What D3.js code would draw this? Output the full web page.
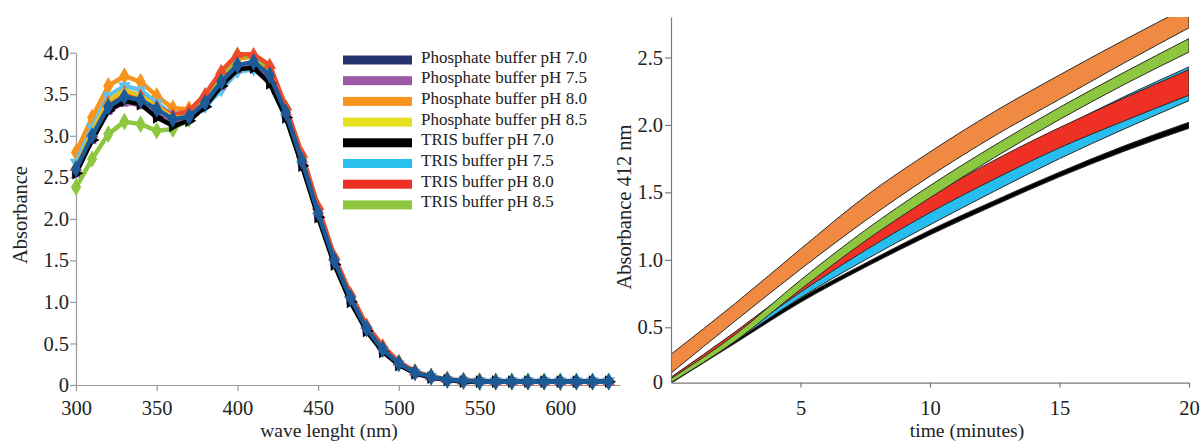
<!DOCTYPE html>
<html>
<head>
<meta charset="utf-8">
<script src="https://cdn.jsdelivr.net/npm/d3@7/dist/d3.min.js"></script>
<style>
  html, body { margin: 0; padding: 0; background: #fff; }
  svg text { font-family: "Liberation Serif", "Times New Roman", serif; fill: #222; }
</style>
</head>
<body>
<svg id="fig" width="1201" height="441"></svg>
<script>
// ---------- Spectra (left panel) ----------
const wavelengths = [300,310,320,330,340,350,360,370,380,390,400,410,420,430,440,450,460,470,480,490,500,510,520,530,540,550,560,570,580,590,600,610,620,630];

const specPhos70 = [2.60,3.00,3.35,3.47,3.43,3.32,3.20,3.23,3.40,3.65,3.85,3.89,3.73,3.28,2.70,2.07,1.50,1.05,0.68,0.43,0.26,0.15,0.10,0.06,0.05,0.04,0.04,0.04,0.04,0.04,0.04,0.04,0.04,0.04];
const specPhos75 = [2.55,2.95,3.30,3.40,3.37,3.25,3.15,3.20,3.38,3.60,3.80,3.84,3.68,3.25,2.67,2.05,1.48,1.03,0.67,0.42,0.25,0.14,0.09,0.06,0.05,0.04,0.04,0.04,0.04,0.04,0.04,0.04,0.04,0.04];
const specPhos80 = [2.80,3.22,3.60,3.72,3.65,3.48,3.33,3.32,3.42,3.63,3.93,3.95,3.78,3.30,2.72,2.10,1.52,1.07,0.70,0.45,0.27,0.16,0.10,0.07,0.05,0.05,0.04,0.04,0.04,0.04,0.04,0.04,0.04,0.04];
const specPhos85 = [2.62,3.05,3.42,3.55,3.48,3.35,3.22,3.22,3.37,3.60,3.80,3.82,3.68,3.25,2.68,2.06,1.49,1.04,0.68,0.43,0.26,0.15,0.10,0.06,0.05,0.04,0.04,0.04,0.04,0.04,0.04,0.04,0.04,0.04];
const specTris70 = [2.55,2.95,3.30,3.42,3.38,3.22,3.12,3.18,3.35,3.60,3.80,3.82,3.63,3.22,2.64,2.02,1.45,1.00,0.65,0.40,0.24,0.14,0.09,0.06,0.04,0.04,0.04,0.04,0.04,0.04,0.04,0.04,0.04,0.04];
const specTris75 = [2.68,3.10,3.48,3.60,3.55,3.40,3.25,3.22,3.35,3.55,3.77,3.80,3.65,3.22,2.65,2.03,1.47,1.02,0.66,0.42,0.25,0.15,0.10,0.06,0.05,0.05,0.05,0.05,0.05,0.05,0.05,0.05,0.05,0.05];
const specTris80 = [2.62,3.02,3.40,3.52,3.48,3.35,3.25,3.30,3.50,3.78,3.98,3.98,3.85,3.35,2.78,2.15,1.55,1.10,0.72,0.47,0.28,0.16,0.10,0.07,0.05,0.05,0.04,0.04,0.04,0.04,0.04,0.04,0.04,0.04];
const specTris85 = [2.38,2.72,3.02,3.17,3.14,3.06,3.08,3.20,3.42,3.72,3.97,3.95,3.82,3.33,2.76,2.12,1.53,1.08,0.70,0.45,0.27,0.15,0.10,0.06,0.05,0.04,0.04,0.04,0.04,0.04,0.04,0.04,0.04,0.04];

const legendLabels = [
  "Phosphate buffer pH 7.0","Phosphate buffer pH 7.5","Phosphate buffer pH 8.0","Phosphate buffer pH 8.5",
  "TRIS buffer pH 7.0","TRIS buffer pH 7.5","TRIS buffer pH 8.0","TRIS buffer pH 8.5"
];
const legendColors = ["#25336f","#9b59a6","#f7941d","#e6e020","#000000","#29c0ee","#ee3124","#8dc63f"];

const spectraYTicks = [0,0.5,1.0,1.5,2.0,2.5,3.0,3.5,4.0];
const spectraXTicks = [300,350,400,450,500,550,600];

// ---------- Kinetics (right panel): lower / upper edge of each replicate band ----------
const timePoints = [0,2.5,5,7.5,10,12.5,15,17.5,20];
const kinTris70Lo = [0.085,0.385,0.685,0.945,1.185,1.405,1.615,1.805,1.975];
const kinTris70Hi = [0.105,0.410,0.715,0.975,1.220,1.440,1.650,1.845,2.020];
const kinTris75Lo = [0.09,0.40,0.72,1.00,1.26,1.51,1.75,1.97,2.18];
const kinTris75Hi = [0.12,0.46,0.80,1.13,1.43,1.71,1.97,2.21,2.43];
const kinTris80Lo = [0.10,0.42,0.76,1.07,1.35,1.60,1.83,2.03,2.22];
const kinTris80Hi = [0.13,0.47,0.83,1.17,1.47,1.74,1.98,2.20,2.41];
const kinTris85Lo = [0.09,0.40,0.78,1.14,1.46,1.76,2.04,2.30,2.54];
const kinTris85Hi = [0.12,0.45,0.85,1.22,1.55,1.85,2.13,2.39,2.64];
const kinPhos80Lo = [0.16,0.55,0.93,1.29,1.62,1.92,2.19,2.46,2.72];
const kinPhos80Hi = [0.30,0.68,1.08,1.47,1.80,2.10,2.37,2.63,2.88];

const kineticsYTicks = [0.5,1.0,1.5,2.0,2.5];
const kineticsXTicks = [5,10,15,20];

// ---------- drawing ----------
const svg = d3.select("#fig");
const serif = '"Liberation Serif", "Times New Roman", serif';
const axisGrey = "#9a9a9a";

function styleAxis(g, color) {
  g.attr("font-family", serif);
  g.select(".domain").attr("stroke", color).attr("stroke-width", 1.2);
  g.selectAll(".tick line").attr("stroke", color).attr("stroke-width", 1.2);
  g.selectAll(".tick text").style("font-family", serif).style("font-size", "20.5px").attr("fill", "#222");
}

// Left panel scales
const xL = d3.scaleLinear().domain([300, 637]).range([76, 620]);
const yL = d3.scaleLinear().domain([0, 4.0]).range([385, 52.7]);

const gLX = svg.append("g").attr("transform", `translate(0,${yL(0)})`)
  .call(d3.axisBottom(xL).tickValues(spectraXTicks).tickFormat(d3.format("d")).tickSize(6).tickSizeOuter(0));
styleAxis(gLX, axisGrey);
gLX.selectAll(".tick text").attr("y", 30).attr("dy", 0);

const gLY = svg.append("g").attr("transform", `translate(${xL(300)},0)`)
  .call(d3.axisLeft(yL).tickValues(spectraYTicks).tickFormat(d => d === 0 ? "0" : d3.format(".1f")(d)).tickSize(6).tickSizeOuter(0));
styleAxis(gLY, axisGrey);
gLY.selectAll(".tick text").attr("x", -7);

svg.append("text").attr("transform", `translate(27,215) rotate(-90)`)
  .attr("text-anchor", "middle").style("font-size", "20.5px").text("Absorbance");
svg.append("text").attr("x", 329).attr("y", 437).attr("text-anchor", "middle")
  .style("font-size", "19.5px").text("wave lenght (nm)");

const spectraSeries = [
  { vals: specPhos80, marker: "diamond", plot: "#f7941d" },
  { vals: specTris75, marker: "tridown", plot: "#5cc3ee" },
  { vals: specTris85, marker: "diamond", plot: "#8dc63f" },
  { vals: specTris80, marker: "triup", plot: "#ef4a2a" },
  { vals: specPhos85, marker: "none", plot: "#e6c020" },
  { vals: specPhos75, marker: "square", plot: "#9b59a6" },
  { vals: specTris70, marker: "triright", plot: "#000000" },
  { vals: specPhos70, marker: "diamond", plot: "#1c5a98" }
];

const lineL = d3.line().x(d => xL(d[0])).y(d => yL(d[1]));
const symTypes = {
  diamond: d3.symbolDiamond, square: d3.symbolSquare,
  triup: d3.symbolTriangle, tridown: d3.symbolTriangle, triright: d3.symbolTriangle
};
const symRot = { triup: 0, tridown: 180, triright: 90, diamond: 0, square: 0 };

spectraSeries.forEach(s => {
  const pts = wavelengths.map((w, i) => [w, s.vals[i]]);
  svg.append("path").datum(pts).attr("d", lineL)
    .attr("fill", "none").attr("stroke", s.plot).attr("stroke-width", 4.5).attr("stroke-linejoin", "round");
  if (s.marker !== "none") {
    const sym = d3.symbol().type(symTypes[s.marker]).size(s.marker === "diamond" ? 90 : 70);
    svg.append("g").selectAll("path").data(pts).join("path")
      .attr("d", sym)
      .attr("transform", d => `translate(${xL(d[0])},${yL(d[1])}) rotate(${symRot[s.marker]})`)
      .attr("fill", s.plot);
  }
});

// Legend
const legend = svg.append("g");
legendLabels.forEach((lab, i) => {
  const cy = 60 + i * 20.7;
  legend.append("rect").attr("x", 343).attr("y", cy - 4.5).attr("width", 69).attr("height", 9)
    .attr("fill", legendColors[i]);
  legend.append("text").attr("x", 421).attr("y", cy + 2.5).style("font-size", "17px").text(lab);
});

// Right panel scales
const xR = d3.scaleLinear().domain([0, 20]).range([671, 1189]);
const yR = d3.scaleLinear().domain([0.09, 2.8]).range([382.6, 17]);

svg.append("defs").append("clipPath").attr("id", "kinClip")
  .append("rect").attr("x", xR(0)).attr("y", yR(2.8)).attr("width", xR(20) - xR(0)).attr("height", yR(0.09) - yR(2.8));

const kineticsSeries = [
  { lo: kinTris70Lo, hi: kinTris70Hi, fill: "#000000" },
  { lo: kinTris75Lo, hi: kinTris75Hi, fill: "#27bdee" },
  { lo: kinTris80Lo, hi: kinTris80Hi, fill: "#ee3124" },
  { lo: kinTris85Lo, hi: kinTris85Hi, fill: "#8dc63f" },
  { lo: kinPhos80Lo, hi: kinPhos80Hi, fill: "#f08a42" }
];
const areaR = d3.area().curve(d3.curveMonotoneX)
  .x(d => xR(d.t)).y0(d => yR(d.lo)).y1(d => yR(d.hi));
const bands = svg.append("g").attr("clip-path", "url(#kinClip)");
kineticsSeries.forEach(s => {
  const pts = timePoints.map((t, i) => ({ t, lo: s.lo[i], hi: s.hi[i] }));
  bands.append("path").datum(pts).attr("d", areaR)
    .attr("fill", s.fill).attr("stroke", "#2a2a2a").attr("stroke-width", 1);
});

const rGrey = "#7a7a7a";
const gRX = svg.append("g").attr("transform", `translate(0,${yR(0.09)})`)
  .call(d3.axisBottom(xR).tickValues(kineticsXTicks).tickFormat(d3.format("d")).tickSize(5).tickSizeOuter(0));
styleAxis(gRX, rGrey);
gRX.selectAll(".tick text").attr("y", 32).attr("dy", 0);

const gRY = svg.append("g").attr("transform", `translate(${xR(0)},0)`)
  .call(d3.axisLeft(yR).tickValues(kineticsYTicks).tickFormat(d3.format(".1f")).tickSize(6).tickSizeOuter(0));
styleAxis(gRY, rGrey);
gRY.selectAll(".tick text").attr("x", -8);
// origin label
svg.append("text").attr("x", xR(0) - 8).attr("y", yR(0.09)).attr("dy", "0.32em")
  .attr("text-anchor", "end").style("font-size", "20.5px").text("0");

svg.append("text").attr("transform", `translate(631,207) rotate(-90)`)
  .attr("text-anchor", "middle").style("font-size", "20.5px").text("Absorbance 412 nm");
svg.append("text").attr("x", 967).attr("y", 437).attr("text-anchor", "middle")
  .style("font-size", "19.5px").text("time (minutes)");
</script>
</body>
</html>
